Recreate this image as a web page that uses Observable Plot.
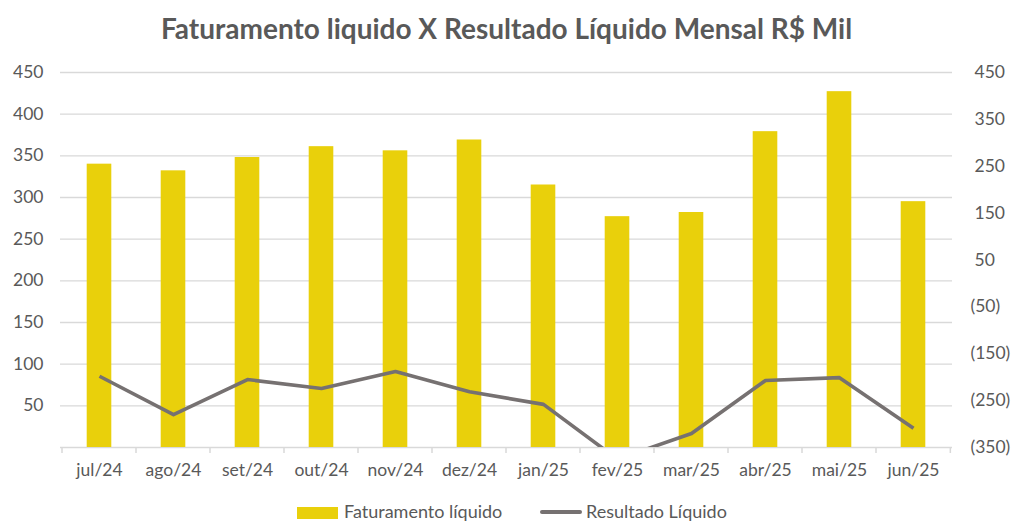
<!DOCTYPE html>
<html>
<head>
<meta charset="utf-8">
<script src="https://cdn.jsdelivr.net/npm/d3@7"></script>
<script src="https://cdn.jsdelivr.net/npm/@observablehq/plot@0.6"></script>
<style>
  html, body { margin: 0; padding: 0; background: #fff; }
  body { width: 1013px; height: 522px; overflow: hidden; position: relative; font-family: Lato, "Open Sans", sans-serif; color: #595959; }
  #title { position: absolute; left: 0; top: 0; width: 1013px; height: 56px; line-height: 56px; text-align: center; font-weight: bold; font-size: 28px; color: #595959; }
  #chart { position: absolute; left: 0; top: 60px; }
  #legend { position: absolute; left: 0; top: 500px; width: 1013px; height: 22px; }
  .lg { position: absolute; top: 2px; font-size: 18px; line-height: 19px; color: #595959; white-space: nowrap; }
</style>
</head>
<body>
<div id="title">Faturamento liquido X Resultado Líquido Mensal R$ Mil</div>
<div id="chart"></div>
<div id="legend">
  <div class="lg" style="left:297px"><span style="display:inline-block;width:41px;height:12px;background:#E9D00B;vertical-align:-1px;margin-right:6px"></span>Faturamento líquido</div>
  <div class="lg" style="left:540px"><span style="display:inline-block;width:42px;height:4px;background:#767171;border-radius:2px;vertical-align:4px;margin-right:4px"></span>Resultado Líquido</div>
</div>
<script>
const months = ["jul/24","ago/24","set/24","out/24","nov/24","dez/24","jan/25","fev/25","mar/25","abr/25","mai/25","jun/25"];
const faturamento = [340, 332, 348, 361, 356, 369, 315, 277, 282, 379, 427, 295];
const resultado = [-198, -280, -205, -224, -188, -231, -258, -375, -320, -207, -201, -309];
const leftTicks = [50, 100, 150, 200, 250, 300, 350, 400, 450];
const rightTicks = [450, 350, 250, 150, 50, -50, -150, -250, -350];
const leftDomain = [0, 450];
const rightDomain = [-350, 450];

const toLeft = v => leftDomain[0] + (v - rightDomain[0]) / (rightDomain[1] - rightDomain[0]) * (leftDomain[1] - leftDomain[0]);
const fromLeft = v => Math.round(rightDomain[0] + (v - leftDomain[0]) / (leftDomain[1] - leftDomain[0]) * (rightDomain[1] - rightDomain[0]));
const data = months.map((m, i) => ({month: m, fat: faturamento[i], res: toLeft(resultado[i])}));
const fmtRight = v => v < 0 ? `(${Math.abs(v)})` : `${v}`;

const boundaryTicks = (index, scales, values, dims) => {
  const g = document.createElementNS("http://www.w3.org/2000/svg", "g");
  const x0 = dims.marginLeft, x1 = dims.width - dims.marginRight;
  const bw = (x1 - x0) / months.length;
  const yb = scales.y(0);
  for (let i = 0; i <= months.length; i++) {
    const xx = scales.x(months[Math.min(i, months.length - 1)]) + (i === months.length ? bw : 0);
    const l = document.createElementNS("http://www.w3.org/2000/svg", "line");
    l.setAttribute("x1", xx); l.setAttribute("x2", xx);
    l.setAttribute("y1", yb); l.setAttribute("y2", yb + 6);
    l.setAttribute("stroke", "#D9D9D9"); l.setAttribute("stroke-width", 1.5);
    g.appendChild(l);
  }
  return g;
};

const chart = Plot.plot({
  width: 1013,
  height: 440,
  marginTop: 12,
  marginBottom: 53,
  marginLeft: 60,
  marginRight: 61,
  style: {fontFamily: "Lato, 'Open Sans', sans-serif", fontSize: "17.5px", color: "#595959", background: "#fff"},
  x: {domain: months, padding: 0},
  y: {domain: leftDomain},
  marks: [
    Plot.ruleY(leftTicks, {stroke: "#D9D9D9", strokeWidth: 1.3}),
    Plot.ruleY([0], {stroke: "#D9D9D9", strokeWidth: 1.5}),
    boundaryTicks,
    Plot.barY(data, {x: "month", y: "fat", fill: "#E9D00B", insetLeft: 24.7, insetRight: 24.7}),
    Plot.line(data, {x: "month", y: "res", stroke: "#767171", strokeWidth: 3.6, clip: true, strokeLinejoin: "round", strokeLinecap: "butt"}),
    Plot.axisX({tickSize: 0, tickPadding: 16, label: null, fill: "#595959"}),
    Plot.axisY({ticks: leftTicks, tickSize: 0, tickPadding: 17, label: null, fill: "#595959"}),
    Plot.axisY({anchor: "right", ticks: rightTicks.filter(v => v >= 0).map(toLeft), tickFormat: v => fmtRight(fromLeft(v)), tickSize: 0, tickPadding: 22, label: null, fill: "#595959"}),
    Plot.axisY({anchor: "right", ticks: rightTicks.filter(v => v < 0).map(toLeft), tickFormat: v => fmtRight(fromLeft(v)), tickSize: 0, tickPadding: 18, label: null, fill: "#595959"})
  ]
});
document.getElementById("chart").appendChild(chart);
</script>
</body>
</html>
